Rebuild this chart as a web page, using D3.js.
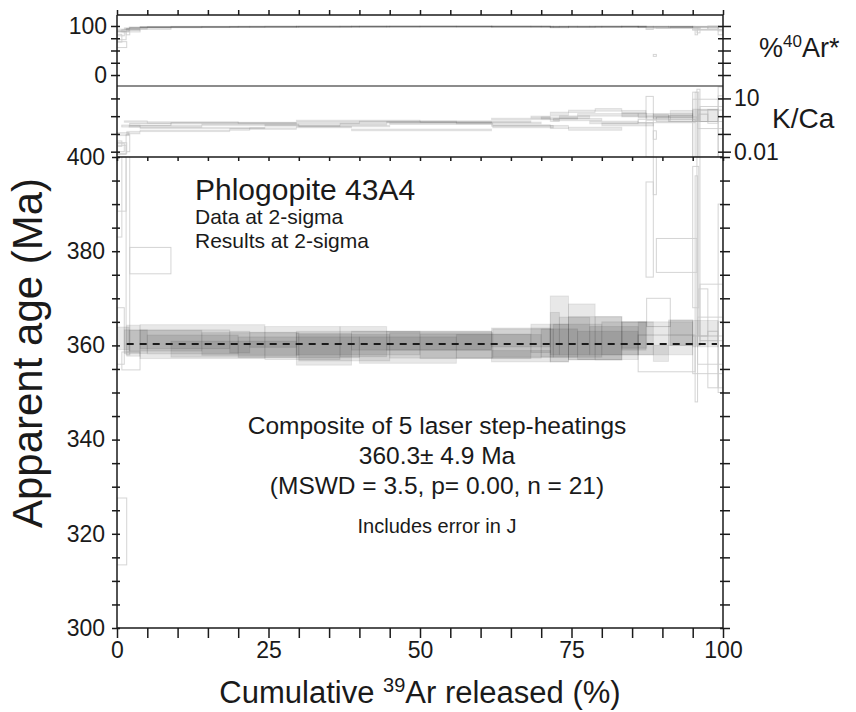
<!DOCTYPE html>
<html>
<head>
<meta charset="utf-8">
<script src="https://cdn.jsdelivr.net/npm/d3@7"></script>
<style>
  body { margin: 0; background: #fff; }
  svg text { font-family: "Liberation Sans", Arial, Helvetica, sans-serif; fill: #1a1a1a; }
</style>
</head>
<body>
<div id="chart"></div>
<script>
// step rows: [cumulative 39Ar end (%), age (Ma), 2s, %40Ar*, 2s, K/Ca, 2s, used in plateau]
const runA = [
  [1.6, 320.5, 7.1, 62, 6, 0.02, 0.012, 0],
  [3.8, 361.0, 3.3, 93, 2, 0.12, 0.02, 1],
  [24.4, 360.8, 3.6, 98.2, 0.8, 0.22, 0.02, 1],
  [36.8, 360.5, 3.5, 99.0, 0.6, 0.30, 0.03, 1],
  [44.5, 360.8, 3.2, 99.2, 0.6, 0.36, 0.04, 1],
  [61.8, 361.0, 2.0, 99.4, 0.5, 0.45, 0.04, 1],
  [71.5, 361.7, 2.0, 99.0, 0.6, 0.70, 0.07, 1],
  [74.5, 363.5, 7.0, 97.5, 1.5, 1.4, 0.3, 1],
  [78.9, 362.9, 5.9, 98.0, 1.2, 1.9, 0.3, 1],
  [83.3, 361.5, 4.6, 98.5, 1.0, 2.3, 0.4, 1],
  [87.4, 362.2, 2.8, 99.0, 0.8, 1.2, 0.3, 1],
  [91.3, 367.0, 3.0, 97.0, 1.5, 0.8, 0.2, 0],
  [95.0, 362.7, 2.7, 98.0, 1.2, 1.6, 0.5, 1],
  [100, 358.0, 4.0, 95, 3, 3, 6, 0]
];
const runB = [
  [0.8, 395, 12, 75, 8, 0.03, 0.01, 0],
  [3.8, 356.7, 1.9, 90, 2, 0.28, 0.03, 0],
  [18.6, 361.3, 2.0, 98.0, 0.7, 0.15, 0.015, 1],
  [21.9, 360.7, 2.3, 98.6, 0.7, 0.18, 0.02, 1],
  [29.6, 361.2, 1.6, 99.0, 0.5, 0.20, 0.02, 1],
  [38.7, 359.2, 3.4, 99.0, 0.6, 0.24, 0.02, 1],
  [61.8, 361.0, 2.0, 99.5, 0.5, 0.17, 0.02, 1],
  [71.5, 357.7, 1.2, 99.3, 0.5, 0.30, 0.03, 1],
  [73.0, 362.5, 4.5, 98.0, 1.2, 0.6, 0.1, 1],
  [78.0, 362.0, 4.0, 98.5, 1.0, 0.9, 0.15, 1],
  [86.0, 361.0, 3.0, 98.8, 0.8, 0.45, 0.08, 1],
  [95.4, 358.3, 3.9, 98.0, 1.2, 0.55, 0.12, 0],
  [95.8, 372, 24, 90, 8, 2, 20, 0],
  [100, 361, 5, 96, 3, 1.2, 1.0, 0]
];
const runC = [
  [1.5, 400, 11.5, 80, 8, 0.015, 0.008, 0],
  [2.1, 380, 22, 88, 6, 0.05, 0.04, 0],
  [8.9, 378, 2.8, 95, 1.5, 0.35, 0.04, 0],
  [29.6, 359.2, 1.7, 98.8, 0.6, 0.40, 0.04, 1],
  [50.0, 360.5, 2.5, 99.2, 0.5, 0.55, 0.05, 1],
  [68.3, 359.8, 2.6, 99.4, 0.5, 0.50, 0.05, 1],
  [71.5, 361.5, 3.0, 99.0, 0.8, 0.9, 0.12, 1],
  [74.5, 360.5, 4.0, 98.0, 1.2, 0.25, 0.05, 1],
  [83.3, 361.5, 4.6, 98.6, 1.0, 0.20, 0.04, 1],
  [87.3, 362.0, 3.0, 98.8, 0.9, 1.8, 0.3, 1],
  [88.5, 384.6, 10.1, 96, 3, 5, 8, 0],
  [91.0, 358.3, 1.7, 98.5, 1.0, 1.0, 0.3, 1],
  [95.0, 362.7, 2.7, 98.2, 1.2, 0.8, 0.3, 1],
  [99.2, 362.5, 2.8, 98.0, 1.5, 1.5, 1.0, 1],
  [100, 358, 7, 94, 4, 4, 10, 0]
];
const runD = [
  [2.0, 361.5, 2.4, 91, 3, 0.10, 0.02, 1],
  [14.0, 361.0, 2.2, 97.5, 0.8, 0.27, 0.03, 1],
  [30.0, 360.3, 2.4, 98.5, 0.6, 0.33, 0.03, 1],
  [45.0, 359.5, 2.8, 99.0, 0.5, 0.28, 0.03, 1],
  [62.0, 360.0, 2.7, 99.3, 0.5, 0.38, 0.04, 1],
  [72.0, 360.5, 3.0, 99.0, 0.6, 0.26, 0.04, 1],
  [80.0, 361.0, 3.5, 98.6, 0.8, 0.65, 0.10, 1],
  [88.5, 361.5, 3.5, 98.5, 1.0, 0.35, 0.07, 1],
  [89.0, 398, 6, 40, 2, 0.1, 0.05, 0],
  [95.7, 379.1, 3.6, 97, 2, 0.7, 0.2, 0],
  [96.2, 380, 20, 92, 6, 3, 30, 0],
  [100, 367, 6, 95, 3, 2, 1.5, 0]
];
const runE = [
  [1.2, 362, 6, 85, 5, 0.02, 0.01, 0],
  [5.0, 360.8, 2.5, 95, 1.5, 0.5, 0.05, 1],
  [20.0, 360.2, 2.0, 98.5, 0.6, 0.45, 0.04, 1],
  [40.0, 359.6, 2.2, 99.0, 0.5, 0.42, 0.04, 1],
  [56.0, 359.0, 2.8, 99.3, 0.5, 0.48, 0.05, 1],
  [70.0, 359.8, 2.5, 99.2, 0.5, 0.42, 0.05, 1],
  [76.0, 360.5, 3.0, 98.8, 0.8, 0.8, 0.12, 1],
  [86.0, 360.0, 3.0, 98.5, 0.9, 1.2, 0.2, 1],
  [95.0, 361.5, 3.5, 98.2, 1.0, 1.1, 0.3, 1],
  [96.0, 383, 15, 95, 3, 2.5, 20, 0],
  [97.5, 367, 5, 96, 3, 0.9, 0.4, 0],
  [99.2, 357, 6, 97, 3, 1.4, 1.0, 0],
  [100, 370, 20, 90, 8, 5, 40, 0]
];
const runs = [runA, runB, runC, runD, runE];

const plateauAge = 360.3;
const plateauFrom = 1.6, plateauTo = 99;
const ageTicks = [300, 320, 340, 360, 380, 400];
const arTicks = [0, 25, 50, 75, 100];
const kcaTicks = [0.01, 0.1, 1, 10];
const cumTicks = [0, 25, 50, 75, 100];

const width = 856, height = 712;
const left = 117, right = 723;
const arTop = 15, arBot = 86, kBot = 157, mainBot = 628;

const x = d3.scaleLinear().domain([0, 100]).range([left, right]);
const yAr = d3.scaleLinear().domain([-22.4, 122.4]).range([arBot, arTop]);
const yK = d3.scaleLog().domain([Math.pow(10, -2.3), Math.pow(10, 1.7)]).range([kBot, arBot]);
const yAge = d3.scaleLinear().domain([300, 400]).range([mainBot, kBot]);

const svg = d3.select("#chart").append("svg")
  .attr("width", width).attr("height", height);

const defs = svg.append("defs");
function clip(id, y0, y1) {
  defs.append("clipPath").attr("id", id)
    .append("rect").attr("x", left).attr("y", y0)
    .attr("width", right - left).attr("height", y1 - y0);
}
clip("clipAr", arTop, arBot);
clip("clipK", arBot, kBot);
clip("clipAge", kBot, mainBot);

// flatten steps with their start position
const steps = [];
runs.forEach((run, r) => {
  let start = 0;
  run.forEach(s => {
    steps.push({ run: r, x0: start, x1: s[0], age: s[1], sAge: s[2],
      ar: s[3], sAr: s[4], kca: s[5], sK: s[6], used: s[7] === 1 });
    start = s[0];
  });
});
// excluded outlines first, plateau steps on top
steps.sort((a, b) => a.used - b.used);

function styleStep(sel) {
  sel.attr("fill", d => d.used ? "#000" : "none")
    .attr("fill-opacity", d => d.used ? 0.09 : 0)
    .attr("stroke", d => d.used ? "#000" : "#cccccc")
    .attr("stroke-opacity", d => d.used ? 0.08 : 0.85)
    .attr("stroke-width", 1);
}

// apparent age spectrum
svg.append("g").attr("clip-path", "url(#clipAge)")
  .selectAll("rect").data(steps).enter().append("rect")
  .attr("x", d => x(d.x0))
  .attr("width", d => x(d.x1) - x(d.x0))
  .attr("y", d => yAge(d.age + d.sAge))
  .attr("height", d => yAge(d.age - d.sAge) - yAge(d.age + d.sAge))
  .call(styleStep);

// %40Ar*
svg.append("g").attr("clip-path", "url(#clipAr)")
  .selectAll("rect").data(steps).enter().append("rect")
  .attr("x", d => x(d.x0))
  .attr("width", d => x(d.x1) - x(d.x0))
  .attr("y", d => yAr(d.ar + d.sAr))
  .attr("height", d => Math.max(1, yAr(d.ar - d.sAr) - yAr(d.ar + d.sAr)))
  .call(styleStep);

// K/Ca
const kMin = yK.domain()[0];
svg.append("g").attr("clip-path", "url(#clipK)")
  .selectAll("rect").data(steps).enter().append("rect")
  .attr("x", d => x(d.x0))
  .attr("width", d => x(d.x1) - x(d.x0))
  .attr("y", d => yK(d.kca + d.sK))
  .attr("height", d => Math.max(1, yK(Math.max(kMin, d.kca - d.sK)) - yK(d.kca + d.sK)))
  .call(styleStep);

// plateau age
svg.append("line")
  .attr("x1", x(plateauFrom)).attr("x2", x(plateauTo))
  .attr("y1", yAge(plateauAge)).attr("y2", yAge(plateauAge))
  .attr("stroke", "#1a1a1a").attr("stroke-width", 2)
  .attr("stroke-dasharray", "7,6");

// ---- axes ----
const tickFont = 23;
function axisStyle(g) {
  g.selectAll(".domain").remove();
  g.selectAll(".tick line").attr("stroke", "#1a1a1a").attr("stroke-width", 1.5);
  g.selectAll("text").attr("font-size", tickFont)
    .attr("font-family", "'Liberation Sans', Arial, sans-serif").attr("fill", "#1a1a1a");
}

// frame lines
const frame = svg.append("g").attr("stroke", "#1a1a1a").attr("stroke-width", 1.5);
frame.append("line").attr("x1", left).attr("x2", left).attr("y1", arTop).attr("y2", mainBot);
frame.append("line").attr("x1", right).attr("x2", right).attr("y1", arTop).attr("y2", mainBot);
frame.append("line").attr("x1", left).attr("x2", right).attr("y1", arTop).attr("y2", arTop);
frame.append("line").attr("x1", left).attr("x2", right).attr("y1", arBot).attr("y2", arBot).attr("stroke-width", 1.2);
frame.append("line").attr("x1", left).attr("x2", right).attr("y1", kBot).attr("y2", kBot);
frame.append("line").attr("x1", left).attr("x2", right).attr("y1", mainBot).attr("y2", mainBot);

const cumMinor = d3.range(0, 101, 5);

// bottom x axis
svg.append("g").attr("transform", `translate(0,${mainBot})`)
  .call(d3.axisBottom(x).tickValues(cumMinor).tickSize(10).tickPadding(4)
    .tickFormat(d => cumTicks.includes(d) ? d : ""))
  .call(axisStyle);

// top of %40Ar* panel
svg.append("g").attr("transform", `translate(0,${arTop})`)
  .call(d3.axisTop(x).tickValues(cumMinor).tickSize(5).tickFormat(""))
  .call(axisStyle);

// top of age panel (inside ticks)
svg.append("g").attr("transform", `translate(0,${kBot})`)
  .call(d3.axisBottom(x).tickValues(cumMinor).tickSize(4).tickFormat(""))
  .call(axisStyle);

// left age axis
svg.append("g").attr("transform", `translate(${left},0)`)
  .call(d3.axisLeft(yAge).tickValues(d3.range(300, 401, 5)).tickSize(5).tickPadding(7)
    .tickFormat(d => ageTicks.includes(d) ? d : ""))
  .call(axisStyle)
  .call(g => g.selectAll(".tick line").attr("x2", -5).attr("x1", 3));

// right age axis
svg.append("g").attr("transform", `translate(${right},0)`)
  .call(d3.axisRight(yAge).tickValues(d3.range(300, 401, 5)).tickSize(7).tickFormat(""))
  .call(axisStyle)
  .call(g => g.selectAll(".tick line").attr("x1", -3));

// %40Ar* axes
svg.append("g").attr("transform", `translate(${left},0)`)
  .call(d3.axisLeft(yAr).tickValues(arTicks).tickSize(6).tickPadding(4)
    .tickFormat(d => (d === 0 || d === 100) ? d : ""))
  .call(axisStyle)
  .call(g => g.selectAll(".tick line").attr("x1", 3));
svg.append("g").attr("transform", `translate(${right},0)`)
  .call(d3.axisRight(yAr).tickValues(arTicks).tickSize(8).tickFormat(""))
  .call(axisStyle)
  .call(g => g.selectAll(".tick line").attr("x1", -5));

// K/Ca axes
svg.append("g").attr("transform", `translate(${left},0)`)
  .call(d3.axisLeft(yK).tickValues(kcaTicks).tickSize(6).tickFormat(""))
  .call(axisStyle)
  .call(g => g.selectAll(".tick line").attr("x1", 3));
svg.append("g").attr("transform", `translate(${right},0)`)
  .call(d3.axisRight(yK).tickValues(kcaTicks).tickSize(8).tickPadding(3)
    .tickFormat(d => d === 10 ? "10" : d === 0.01 ? "0.01" : ""))
  .call(axisStyle)
  .call(g => g.selectAll(".tick line").attr("x1", -5));

// ---- labels ----
const xt = svg.append("text").attr("x", x(50)).attr("y", 703)
  .attr("text-anchor", "middle").attr("font-size", 31);
xt.append("tspan").text("Cumulative ");
xt.append("tspan").attr("font-size", 20).attr("dy", -11).text("39");
xt.append("tspan").attr("dy", 11).text("Ar released (%)");

svg.append("text")
  .attr("transform", `translate(42,353) rotate(-90)`)
  .attr("text-anchor", "middle").attr("font-size", 42)
  .text("Apparent age (Ma)");

const ar = svg.append("text").attr("x", 759).attr("y", 57).attr("font-size", 27);
ar.append("tspan").text("%");
ar.append("tspan").attr("font-size", 17).attr("dy", -10).text("40");
ar.append("tspan").attr("dy", 10).text("Ar*");

svg.append("text").attr("x", 772).attr("y", 128).attr("font-size", 28).text("K/Ca");

svg.append("text").attr("x", 195).attr("y", 200).attr("font-size", 30).text("Phlogopite 43A4");
svg.append("text").attr("x", 195).attr("y", 224).attr("font-size", 21).text("Data at 2-sigma");
svg.append("text").attr("x", 195).attr("y", 248).attr("font-size", 21).text("Results at 2-sigma");

const cx = 437;
svg.append("text").attr("x", cx).attr("y", 434).attr("text-anchor", "middle")
  .attr("font-size", 24.5).text("Composite of 5 laser step-heatings");
svg.append("text").attr("x", cx).attr("y", 464).attr("text-anchor", "middle")
  .attr("font-size", 24.5).text("360.3\u00b1 4.9 Ma");
svg.append("text").attr("x", cx).attr("y", 494).attr("text-anchor", "middle")
  .attr("font-size", 24.5).text("(MSWD = 3.5, p= 0.00, n = 21)");
svg.append("text").attr("x", cx).attr("y", 533).attr("text-anchor", "middle")
  .attr("font-size", 20).text("Includes error in J");
</script>
</body>
</html>
